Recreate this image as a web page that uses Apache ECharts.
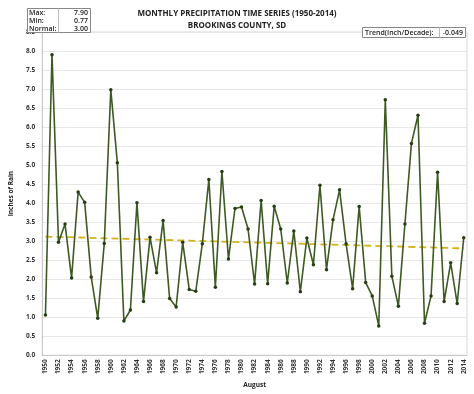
<!DOCTYPE html>
<html><head><meta charset="utf-8">
<script src="https://cdn.jsdelivr.net/npm/echarts@6/dist/echarts.min.js"></script>
<style>html,body{margin:0;padding:0;background:#fff}#c{width:474px;height:394px}</style>
</head><body><div id="c"></div>
<script>
const years = [];
for (let y = 1950; y <= 2014; y++) years.push(String(y));
const precip = [1.06,7.90,2.97,3.45,2.03,4.29,4.02,2.06,0.97,2.94,
  6.98,5.06,0.90,1.19,4.01,1.41,3.10,2.17,3.54,1.49,
  1.27,2.97,1.73,1.68,2.93,4.62,1.79,4.83,2.53,3.86,
  3.90,3.32,1.87,4.07,1.88,3.92,3.32,1.90,3.27,1.67,
  3.08,2.38,4.47,2.25,3.56,4.35,2.93,1.75,3.91,1.91,
  1.56,0.77,6.72,2.08,1.29,3.45,5.57,6.31,0.84,1.56,
  4.81,1.41,2.43,1.36,3.09];
const trendEnds = [3.12, 2.81];
const statLabels = ['Max:', 'Min:', 'Normal:'];
const statValues = ['7.90', '0.77', '3.00'];
const trendLabel = 'Trend(Inch/Decade):';
const trendValue = '-0.049';
const titleLines = ['MONTHLY PRECIPITATION TIME SERIES (1950-2014)', 'BROOKINGS COUNTY, SD'];

const trendData = years.map((y, i) => i === 0 ? trendEnds[0] : (i === years.length - 1 ? trendEnds[1] : null));

const FONT = '"Open Sans"';
const graphics = [];
// stats box
graphics.push({type:'rect', shape:{x:27.5,y:8.5,width:63,height:24}, style:{fill:'#fff', stroke:'#888', lineWidth:1}, z:10});
graphics.push({type:'line', shape:{x1:58.5,y1:8.5,x2:58.5,y2:32.5}, style:{stroke:'#bbb', lineWidth:1}, z:11});
statLabels.forEach((t, i) => {
  graphics.push({type:'text', x:29, y:12.5 + i*8, style:{text:t, font:'600 7px ' + FONT, fill:'#222', textVerticalAlign:'middle'}, z:12});
  graphics.push({type:'text', x:88, y:12.5 + i*8, style:{text:statValues[i], font:'600 7px ' + FONT, fill:'#222', textAlign:'right', textVerticalAlign:'middle'}, z:12});
});
// trend box
graphics.push({type:'rect', shape:{x:362.5,y:27.5,width:103,height:10}, style:{fill:'#fff', stroke:'#888', lineWidth:1}, z:10});
graphics.push({type:'line', shape:{x1:439.5,y1:27.5,x2:439.5,y2:37.5}, style:{stroke:'#bbb', lineWidth:1}, z:11});
graphics.push({type:'text', x:365, y:32.5, style:{text:trendLabel, font:'600 7px ' + FONT, fill:'#222', textVerticalAlign:'middle'}, z:12});
graphics.push({type:'text', x:463, y:32.5, style:{text:trendValue, font:'600 7px ' + FONT, fill:'#222', textAlign:'right', textVerticalAlign:'middle'}, z:12});

const chart = echarts.init(document.getElementById('c'), null, {renderer:'canvas'});
chart.setOption({
  animation:false,
  title:{text:titleLines.join('\n'), left:'center', top:3,
    textStyle:{fontFamily:'Open Sans', fontSize:8, fontWeight:'bold', color:'#222', lineHeight:12}},
  grid:{left:33, right:7, top:32, bottom:35, show:true, borderColor:'#d9d9d9', borderWidth:1},
  xAxis:{type:'category', data:years, boundaryGap:true,
    name:'August', nameLocation:'middle', nameGap:24,
    nameTextStyle:{fontFamily:'Open Sans', fontSize:6.5, fontWeight:'bold', color:'#222'},
    axisLine:{lineStyle:{color:'#c8c8c8'}}, axisTick:{show:false},
    axisLabel:{interval:1, rotate:90, fontFamily:'Open Sans', fontSize:6.5, fontWeight:'bold', color:'#333', margin:4}},
  yAxis:{type:'value', min:0, max:8.5, interval:0.5,
    name:'Inches of Rain', nameLocation:'middle', nameGap:20, nameRotate:90,
    nameTextStyle:{fontFamily:'Open Sans', fontSize:6.5, fontWeight:'bold', color:'#222'},
    axisLine:{show:true, lineStyle:{color:'#c8c8c8'}}, axisTick:{show:false},
    splitLine:{lineStyle:{color:'#e6e6e6'}},
    axisLabel:{formatter:v => v.toFixed(1), fontFamily:'Open Sans', fontSize:6.5, fontWeight:'bold', color:'#333', margin:7}},
  series:[
    {type:'line', data:trendData, connectNulls:true, symbol:'none', z:2,
      lineStyle:{color:'#d4b21c', width:1.8, type:[7,4]}},
    {type:'line', data:precip, symbol:'circle', symbolSize:3.5, z:3,
      lineStyle:{color:'#3d5a22', width:1.6},
      itemStyle:{color:'#263d14'}}
  ],
  graphic:graphics
});
</script></body></html>
